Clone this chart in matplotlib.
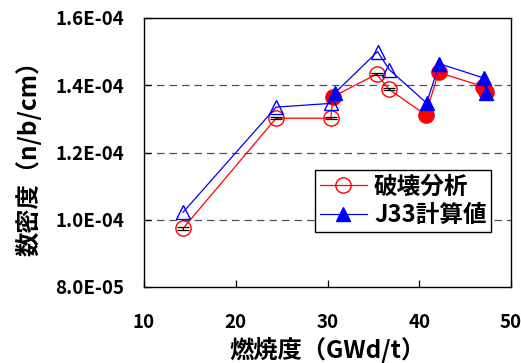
import matplotlib
matplotlib.use('Agg')
import matplotlib.pyplot as plt
from matplotlib.lines import Line2D
from matplotlib.ticker import FuncFormatter

plt.rcParams['font.family'] = ['Noto Sans CJK JP', 'DejaVu Sans']
plt.rcParams['font.weight'] = 'bold'

# destructive analysis (measured)
burnup_meas = [14.25, 24.4, 30.35, 30.6, 35.35, 36.7, 40.7, 42.1, 47.0, 47.3]
dens_meas = [9.74e-5, 1.302e-4, 1.302e-4, 1.366e-4, 1.433e-4, 1.388e-4,
             1.312e-4, 1.438e-4, 1.396e-4, 1.381e-4]
err_meas = [3e-7, 3e-7, 3e-7, 0, 3e-7, 3e-7, 0, 0, 0, 0]
filled_meas = [False, False, False, True, False, False, True, True, True, True]

# J33 calculation
burnup_calc = [14.25, 24.4, 30.35, 30.8, 35.45, 36.75, 40.8, 42.2, 47.1, 47.3]
dens_calc = [1.022e-4, 1.335e-4, 1.346e-4, 1.377e-4, 1.500e-4, 1.446e-4,
             1.347e-4, 1.464e-4, 1.421e-4, 1.378e-4]
filled_calc = [False, False, False, True, False, False, True, True, True, True]

fig = plt.figure(figsize=(5.21, 3.63), dpi=100)
ax = fig.add_axes([144 / 521, 1 - 287 / 363, 367 / 521, 269 / 363])

for yv in [1.0e-4, 1.2e-4, 1.4e-4]:
    ax.axhline(yv, color='#505050', lw=0.9, ls=(0, (6, 4)), zorder=1)

# red: line, error bars, markers
ax.plot(burnup_meas, dens_meas, '-', color='red', lw=0.9, zorder=2)
for x, y, e, f in zip(burnup_meas, dens_meas, err_meas, filled_meas):
    if e > 0:
        ax.errorbar(x, y, yerr=e, fmt='none', ecolor='black', elinewidth=0.8,
                    capsize=4, capthick=0.9, zorder=4)
    ax.plot(x, y, 'o', ms=11, mec='red', mew=1.0,
            mfc='red' if f else 'none', zorder=3)

# blue: line and markers
ax.plot(burnup_calc, dens_calc, '-', color='blue', lw=0.9, zorder=5)
for x, y, f in zip(burnup_calc, dens_calc, filled_calc):
    ax.plot(x, y, '^', ms=10, mec='blue', mew=1.0,
            mfc='blue' if f else 'none', zorder=6)

ax.set_xlim(10, 50)
ax.set_ylim(8e-5, 1.6e-4)
ax.set_xticks([10, 20, 30, 40, 50])
ax.set_yticks([8e-5, 1.0e-4, 1.2e-4, 1.4e-4, 1.6e-4])
ax.yaxis.set_major_formatter(FuncFormatter(lambda v, p: '{:.1E}'.format(v)))
ax.tick_params(direction='in', length=5, width=0.9, labelsize=13.5)
ax.tick_params(axis='x', pad=19)
ax.tick_params(axis='y', pad=14)
for s in ax.spines.values():
    s.set_linewidth(1.0)

ax.set_xlabel('燃焼度（GWd/t）', fontsize=17.5, fontweight='bold', labelpad=3)
ax.set_ylabel('数密度（n/b/cm）', fontsize=17.5, fontweight='bold', labelpad=10)

handles = [
    Line2D([], [], color='red', lw=0.9, marker='o', ms=11, mfc='none', mec='red'),
    Line2D([], [], color='blue', lw=0.9, marker='^', ms=10, mfc='blue', mec='blue'),
]
leg = ax.legend(handles, ['破壊分析', 'J33計算値'], loc='lower left',
                bbox_to_anchor=(171 / 367, 55 / 269),
                prop={'size': 17, 'weight': 'bold'},
                fancybox=False, framealpha=1, edgecolor='black',
                handlelength=2.0, borderpad=0.2, labelspacing=0.2,
                handletextpad=0.3, borderaxespad=0)
leg.get_frame().set_linewidth(1.0)
leg.set_zorder(10)

fig.savefig('out.png', dpi=100)
